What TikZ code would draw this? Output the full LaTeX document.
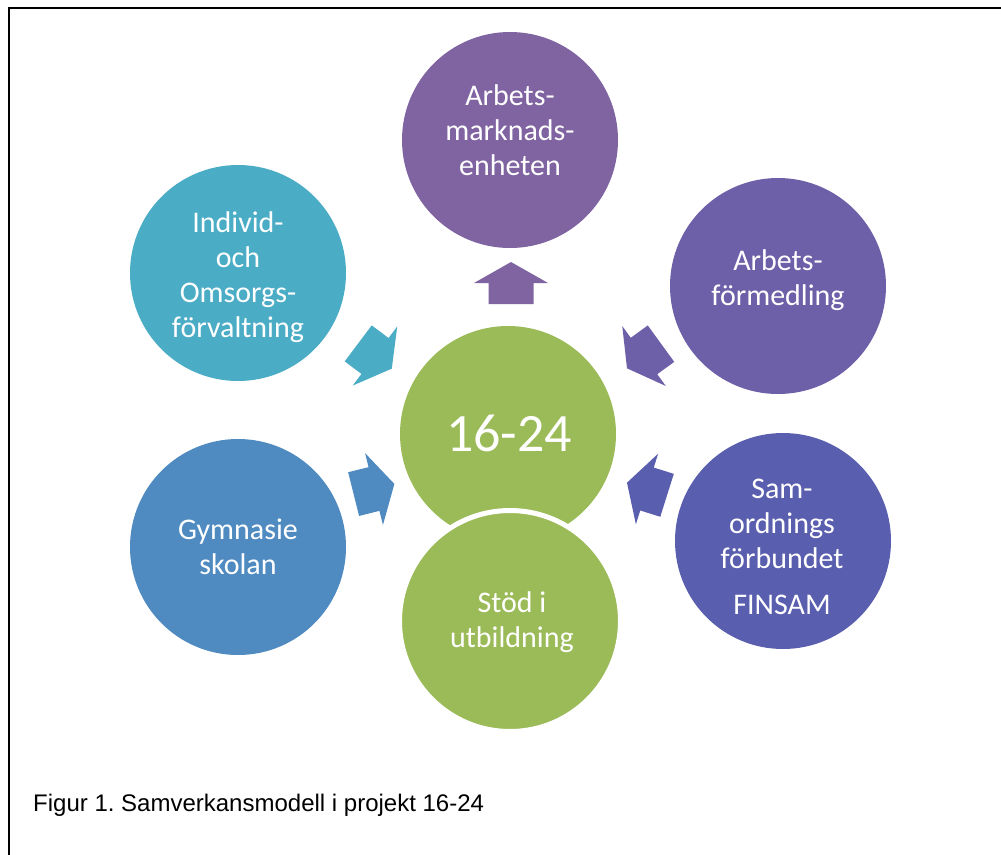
\documentclass[tikz,border=0pt]{standalone}
\usepackage{fontspec}
\setmainfont{Carlito}
\newfontfamily\capfont{Liberation Sans}
\definecolor{cpurple}{HTML}{8064A2}
\definecolor{cviolet}{HTML}{6E60A8}
\definecolor{cindigo}{HTML}{5A5EAE}
\definecolor{cgreen}{HTML}{9BBB59}
\definecolor{cblue}{HTML}{4F8BC1}
\definecolor{caqua}{HTML}{4BACC6}
\tikzset{
  bub/.style={circle, minimum size=216pt, inner sep=0pt, draw=none},
  lbl/.style={text=white, align=center, font=\fontsize{30}{35}\selectfont},
  blockarrow/.pic={\fill (-21,-22.5) -- (0,-22.5) -- (0,-37) -- (21,0) -- (0,37) -- (0,22.5) -- (-21,22.5) -- cycle;}
}
\begin{document}
\frenchspacing
\begin{tikzpicture}[x=1pt,y=-1pt]
\useasboundingbox (0,0) rectangle (1001,854);
\clip (0,0) rectangle (1001,854);
\fill[white] (0,0) rectangle (1001,854);
\draw[line width=2pt] (9,8) rectangle (1030,900);

% circles
\node[bub, fill=cpurple] (amc) at (510,140) {};
\node[bub, fill=cviolet] (afc) at (778,286) {};
\node[bub, fill=cindigo] (fsc) at (783,541) {};
\node[bub, fill=caqua] (ioc) at (238,273) {};
\node[bub, fill=cblue] (gyc) at (238,547) {};
\node[bub, fill=cgreen] (mid) at (508,434) {};
\node[circle, minimum size=221pt, inner sep=0pt, fill=cgreen, draw=white, line width=5pt] (sdc) at (510,621) {};

% labels
\node[lbl] (amt) at (510,130) {Arbets-\\marknads-\\enheten};
\node[lbl] (aft) at (778,280) {Arbets-\\förmedling};
\node[lbl] (fst) at (782,547) {Sam-\\ordnings\\förbundet\\[11pt]FINSAM};
\node[lbl] (iot) at (238,277) {Individ-\\och\\Omsorgs-\\förvaltning};
\node[lbl] (gyt) at (238,547) {Gymnasie\\skolan};
\node[text=white, font=\fontsize{54}{62}\selectfont] (midt) at (509,433) {16-24};
\node[lbl] (sdt) at (512,622) {Stöd i\\utbildning};

% arrows
\pic[fill=cpurple, rotate=90] at (511,283) {blockarrow};
\pic[fill=caqua, rotate=-37] at (375,356) {blockarrow};
\pic[fill=cviolet, rotate=216] at (644,356) {blockarrow};
\pic[fill=cblue, rotate=14] at (374,489) {blockarrow};
\pic[fill=cindigo, rotate=162.5] at (647,489) {blockarrow};

% caption
\node[anchor=base west, inner sep=0pt, font=\capfont\fontsize{24}{28}\selectfont] (cap) at (33,811) {Figur 1. Samverkansmodell i projekt 16-24};
\end{tikzpicture}
\end{document}
